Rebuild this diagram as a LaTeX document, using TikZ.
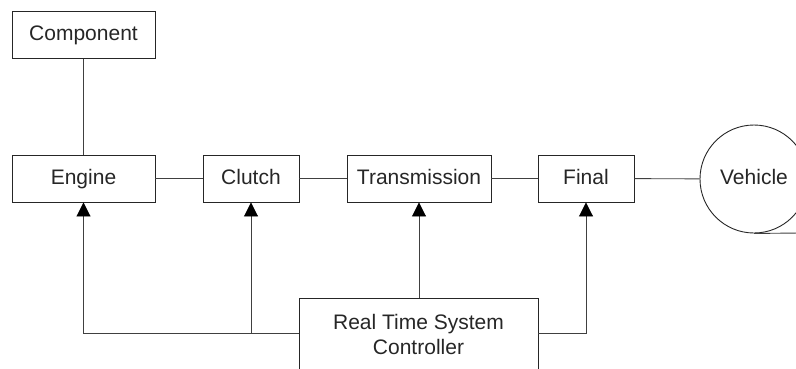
\documentclass[tikz,border=0pt]{standalone}
\usepackage{fontspec}
\setmainfont{Liberation Sans}
\usetikzlibrary{arrows.meta}
\begin{document}
\begin{tikzpicture}[x=1pt,y=-1pt,
  txt/.style={font=\fontsize{21}{25}\selectfont,text=black!85},
  blk/.style={txt,draw=black!85,line width=0.9pt,rectangle,minimum height=47pt,inner sep=0pt,text height=15pt,text depth=4pt},
  ln/.style={draw=black!75,line width=0.9pt},
  arr/.style={ln,-{Triangle[width=14pt,length=14pt,fill=black,color=black]}}]
\useasboundingbox (0,0) rectangle (796,368);
\node[blk,minimum width=143pt] (comp) at (83.5,35) {Component};
\node[blk,minimum width=143pt] (engine) at (83.5,178.5) {Engine};
\node[blk,minimum width=96pt] (clutch) at (251,178.5) {Clutch};
\node[blk,minimum width=144pt] (trans) at (419,178.5) {Transmission};
\node[blk,minimum width=96pt] (final) at (586,178.5) {Final};
\node[txt,draw=black!85,line width=0.9pt,circle,minimum size=108pt,inner sep=0pt,text height=15pt,text depth=4pt] (veh) at (754,179) {Vehicle};
\node[blk,minimum width=239pt,minimum height=90pt,anchor=north] (ctrl) at (418.5,298) {};
\node[txt,align=center] (ctrltext) at (418.5,334.5) {Real Time System\\Controller};
\coordinate (road) at (800,233);
\draw[ln] (comp) -- (engine);
\draw[ln] (engine) -- (clutch);
\draw[ln] (clutch) -- (trans);
\draw[ln] (trans) -- (final);
\draw[ln] (final) -- (veh);
\draw[ln] (veh.south) -- (road);
\coordinate (cl) at (ctrl.north west |- 0,333.5);
\coordinate (cr) at (ctrl.north east |- 0,333.5);
\draw[arr] (cl) -| (engine.south);
\draw[arr] (clutch.south |- cl) -- (clutch.south);
\draw[arr] (trans.south |- ctrl.north) -- (trans.south);
\draw[arr] (cr) -| (final.south);
\end{tikzpicture}
\end{document}
